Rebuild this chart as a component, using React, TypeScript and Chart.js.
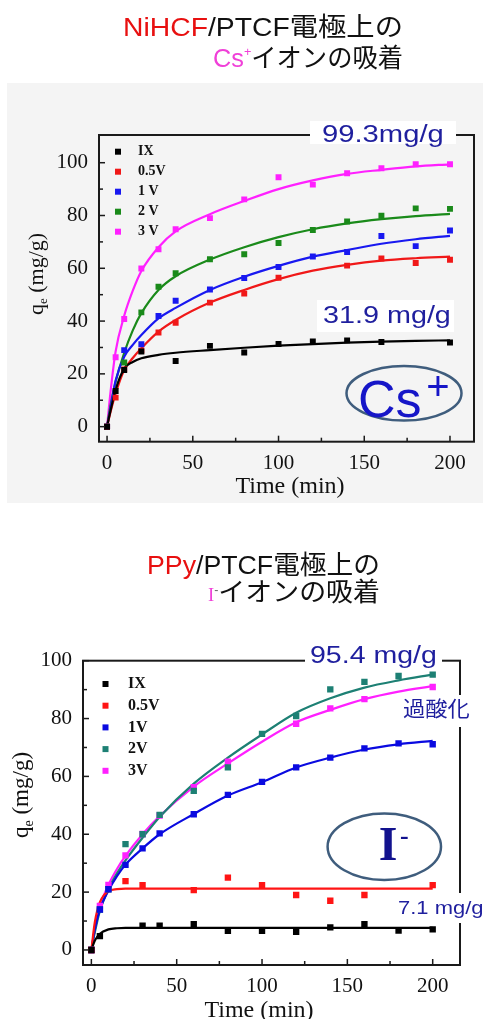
import React, { useEffect, useRef } from "react";
import { Chart, registerables } from "chart.js";
Chart.register(...registerables);

const SERIF = "'Liberation Serif', 'Times New Roman', serif";
const SANS = "'Liberation Sans', Arial, 'Noto Sans CJK JP', sans-serif";
const CJK = "'Noto Sans CJK JP', sans-serif";

// ---------- axes ----------
const xTickValues = [0, 50, 100, 150, 200];
const xMinorValues = [25, 75, 125, 175];
const yTickValues = [0, 20, 40, 60, 80, 100];
const yMinorValues = [10, 30, 50, 70, 90];

// ---------- Cs+ on NiHCF/PTCF ----------
const csLabels = ["IX", "0.5V", "1 V", "2 V", "3 V"];
const csColors = ["#000000", "#f01818", "#1818f0", "#1a8a1a", "#ff20ff"];
const csTimes = [0, 5, 10, 20, 30, 40, 60, 80, 100, 120, 140, 160, 180, 200];
const csIX = [0, 13.5, 21.5, 28.5, null, 24.9, 30.6, 28.1, 31.3, 32.3, 32.7, 32.1, null, 31.9];
const cs05V = [0, 11, 21.7, 28.8, 35.7, 39.4, 47, 50.4, 56.4, null, 61, 63.7, 62, 63.2];
const cs1V = [0, null, 29, 31.2, 41.9, 47.7, 52, 56.3, 60.5, 64.5, 66.2, 72.2, 68.4, 74.3];
const cs2V = [0, null, 24.3, 43.3, 53, 58.1, 63.4, 65.3, 69.6, 74.5, 77.7, 79.9, 82.7, 82.5];
const cs3V = [0, 26.3, 40.8, 59.9, 67.2, 74.8, 79, 86.1, 94.5, 91.7, 96, 97.9, 99.4, 99.4];

const fitTimes = [0, 2, 5, 10, 15, 20, 30, 40, 60, 80, 100, 120, 140, 160, 180, 200];
const csFitIX = [0, 6, 14, 22, 24.5, 25.9, 27.2, 28, 29, 29.9, 30.7, 31.3, 31.8, 32.2, 32.5, 32.7];
const csFit05V = [0, 5.5, 12.6, 21.5, 26, 29.7, 36, 40.4, 47, 51.8, 55.9, 59.1, 61.3, 62.9, 63.8, 64.4];
const csFit1V = [0, 7, 17.5, 26.5, 31, 34.7, 41, 45, 51.8, 56.8, 60.9, 64.4, 66.9, 69.3, 71, 72.3];
const csFit2V = [0, 8, 17, 28, 36.5, 43, 51.8, 57, 63.3, 68, 71.8, 74.8, 77, 78.6, 79.8, 80.6];
const csFit3V = [0, 13, 28.5, 42, 51.5, 59, 68, 74, 80.5, 85.5, 90, 93.3, 95.8, 97.3, 98.6, 99.4];

// ---------- I- on PPy/PTCF ----------
const iLabels = ["IX", "0.5V", "1V", "2V", "3V"];
const iColors = ["#000000", "#ff1414", "#0a0ae0", "#1d8074", "#ff20ff"];
const iTimes = [0, 5, 10, 20, 30, 40, 60, 80, 100, 120, 140, 160, 180, 200];
const iIX = [0, 4.8, null, null, 8.4, 8.4, 8.9, 6.6, 6.6, 6.3, 7.8, 8.9, 6.7, 7.1];
const i05V = [0, null, null, 23.8, 22.4, null, 20.7, 25, 22.4, 19, 17, 19, null, 22.4];
const i1V = [0, 14, 21, 29.4, 35.1, 40.3, 46.9, 53.6, 58.1, 63.1, 66.5, 69.7, 71.4, 71.1];
const i2V = [0, 14, 21, 36.6, 40, 46.7, 55, 63.1, 74.7, 80.9, 90.1, 92.7, 94.7, 95.2];
const i3V = [0, 15.2, 22.5, 32.7, 40.1, 46.5, 56.3, 65.1, null, 78.2, 83.5, 86.7, null, 90.9];

const iFitIX = [0, 3.2, 5.6, 7.1, 7.5, 7.6, 7.6, 7.6, 7.6, 7.6, 7.6, 7.6, 7.6, 7.6, 7.6, 7.6];
const iFit05V = [0, 9.5, 16.5, 20.3, 21, 21.2, 21.2, 21.2, 21.2, 21.2, 21.2, 21.2, 21.2, 21.2, 21.2, 21.2];
const iFit1V = [0, 7, 14, 20.5, 25.5, 29.5, 35.1, 40, 47, 53.4, 58, 63.1, 66.5, 69.3, 71.1, 72.3];
const iFit2V = [0, 6, 13.5, 21, 26.5, 31, 38.8, 46, 57.5, 66.5, 74.5, 82, 87, 90.7, 93.2, 95.2];
const iFit3V = [0, 7, 15, 22.5, 28, 32.5, 40, 46.3, 56.5, 64.5, 72, 78.7, 83, 86.7, 89.3, 91.2];

const pts = (ts: number[], vs: (number | null)[]) =>
  ts.map((t, i) => ({ x: t, y: vs[i] })).filter((p) => p.y !== null);

function drawText(ctx: any, s: string, x: number, y: number, font: string, color: string, sx = 1, align = "left") {
  ctx.save();
  ctx.font = font;
  ctx.fillStyle = color;
  ctx.textBaseline = "alphabetic";
  ctx.textAlign = align;
  ctx.translate(x, y);
  ctx.scale(sx, 1);
  ctx.fillText(s, 0, 0);
  ctx.restore();
}

function makeDeco(spec: any) {
  return {
    id: "deco",
    afterDraw(chart: any) {
      const { ctx, chartArea: ca, scales } = chart;
      const xs = scales.x;
      const ys = scales.y;
      ctx.save();
      ctx.strokeStyle = "#1a1a1a";
      ctx.lineWidth = 2;
      ctx.strokeRect(ca.left, ca.top, ca.right - ca.left, ca.bottom - ca.top);
      ctx.lineWidth = 1.5;
      const line = (x1: number, y1: number, x2: number, y2: number) => {
        ctx.beginPath();
        ctx.moveTo(x1, y1);
        ctx.lineTo(x2, y2);
        ctx.stroke();
      };
      xTickValues.forEach((v) => { const x = xs.getPixelForValue(v); line(x, ca.bottom, x, ca.bottom - 6); });
      xMinorValues.forEach((v) => { const x = xs.getPixelForValue(v); line(x, ca.bottom, x, ca.bottom - 4); });
      yTickValues.forEach((v) => { const y = ys.getPixelForValue(v); line(ca.left, y, ca.left + 6, y); });
      yMinorValues.forEach((v) => { const y = ys.getPixelForValue(v); line(ca.left, y, ca.left + 4, y); });
      ctx.restore();

      spec.boxes.forEach((b: any) => {
        ctx.save();
        ctx.fillStyle = "#ffffff";
        ctx.fillRect(b.x, b.y, b.w, b.h);
        ctx.restore();
      });
      spec.texts.forEach((t: any) => drawText(ctx, t.s, t.x, t.y, t.font, t.color, t.sx || 1, t.align || "left"));

      const e = spec.ellipse;
      ctx.save();
      ctx.strokeStyle = "#3f5d7d";
      ctx.lineWidth = 2.5;
      ctx.beginPath();
      ctx.ellipse(e.cx, e.cy, e.rx, e.ry, 0, 0, Math.PI * 2);
      ctx.stroke();
      ctx.restore();
      spec.ionTexts.forEach((t: any) => drawText(ctx, t.s, t.x, t.y, t.font, t.color, 1, t.align || "left"));

      const lg = spec.legend;
      spec.labels.forEach((lab: string, i: number) => {
        const y = lg.y0 + lg.dy * i;
        const col = chart.data.datasets[i].backgroundColor;
        ctx.save();
        ctx.fillStyle = col;
        ctx.fillRect(lg.mx - 3, y - 3, 6, 6);
        ctx.fillStyle = "#111";
        ctx.font = `bold ${lg.size}px ${SERIF}`;
        ctx.textBaseline = "middle";
        ctx.fillText(lab, lg.lx, y);
        ctx.restore();
      });

      drawText(ctx, "Time (min)", spec.xTitle.x, spec.xTitle.y, `24px ${SERIF}`, "#111", 1, "center");
      const yt = spec.yTitle;
      ctx.save();
      ctx.translate(yt.x, yt.y);
      ctx.rotate(-Math.PI / 2);
      ctx.fillStyle = "#111";
      ctx.textBaseline = "alphabetic";
      ctx.textAlign = "left";
      ctx.font = `${yt.size}px ${SERIF}`;
      ctx.fillText("q", 0, 0);
      let w = ctx.measureText("q").width;
      ctx.font = `${Math.round(yt.size * 0.6)}px ${SERIF}`;
      ctx.fillText("e", w, yt.size * 0.2);
      w += ctx.measureText("e").width;
      ctx.font = `${yt.size}px ${SERIF}`;
      ctx.fillText(" (mg/g)", w, 0);
      ctx.restore();
    },
  };
}

function buildChart(canvas: HTMLCanvasElement, spec: any) {
  const datasets: any[] = [];
  spec.labels.forEach((lab: string, i: number) => {
    datasets.push({
      label: lab,
      data: pts(spec.times, spec.points[i]),
      showLine: false,
      pointStyle: "rect",
      pointRadius: spec.pr,
      pointHoverRadius: spec.pr,
      backgroundColor: spec.colors[i],
      borderColor: spec.colors[i],
      borderWidth: 0,
    });
  });
  spec.labels.forEach((lab: string, i: number) => {
    datasets.push({
      label: lab + " fit",
      data: pts(fitTimes, spec.fits[i]),
      showLine: true,
      pointRadius: 0,
      borderColor: spec.colors[i],
      backgroundColor: spec.colors[i],
      borderWidth: 2.2,
      cubicInterpolationMode: "monotone",
      fill: false,
    });
  });
  const tickFont = { family: SERIF, size: 21 };
  return new Chart(canvas, {
    type: "scatter",
    data: { datasets },
    options: {
      responsive: false,
      animation: false,
      events: [],
      layout: { padding: { left: 0, top: spec.area.top, right: spec.area.right, bottom: 0 } },
      plugins: { legend: { display: false }, tooltip: { enabled: false } },
      scales: {
        x: {
          type: "linear",
          min: spec.xMin,
          max: spec.xMax,
          afterBuildTicks: (s: any) => { s.ticks = xTickValues.map((v) => ({ value: v })); },
          afterFit: (s: any) => { s.height = spec.area.xAxisH; },
          grid: { display: false, drawTicks: false },
          border: { display: false },
          ticks: { font: tickFont, color: "#111", padding: 9, maxRotation: 0, autoSkip: false },
        },
        y: {
          type: "linear",
          min: spec.yMin,
          max: spec.yMax,
          afterBuildTicks: (s: any) => { s.ticks = yTickValues.map((v) => ({ value: v })); },
          afterFit: (s: any) => { s.width = spec.area.left; },
          grid: { display: false, drawTicks: false },
          border: { display: false },
          ticks: { font: tickFont, color: "#111", padding: 11, autoSkip: false },
        },
      },
    } as any,
    plugins: [makeDeco(spec)],
  });
}

const annFont = (n: number) => `${n}px ${SANS}`;
const annColor = "#1f1f9e";

const csSpec = {
  labels: csLabels,
  colors: csColors,
  times: csTimes,
  points: [csIX, cs05V, cs1V, cs2V, cs3V],
  fits: [csFitIX, csFit05V, csFit1V, csFit2V, csFit3V],
  pr: 4.2,
  xMin: -4.7,
  xMax: 214,
  yMin: -5.7,
  yMax: 110.5,
  area: { top: 52, right: 9, left: 99, xAxisH: 61.3 },
  boxes: [
    { x: 310, y: 38, w: 146, h: 23 },
    { x: 317, y: 217, w: 137, h: 32 },
  ],
  texts: [
    { s: "99.3mg/g", x: 322, y: 59, font: annFont(23), color: annColor, sx: 1.27 },
    { s: "31.9 mg/g", x: 323, y: 240.3, font: annFont(23), color: annColor, sx: 1.25 },
  ],
  ellipse: { cx: 404, cy: 310.3, rx: 57.5, ry: 27.3 },
  ionTexts: [
    { s: "Cs", x: 358, y: 333.7, font: `52px ${SANS}`, color: "#1616c8" },
    { s: "+", x: 438, y: 317, font: `40px ${SANS}`, color: "#1616c8", align: "center" },
  ],
  legend: { mx: 118, lx: 138, y0: 68.7, dy: 20, size: 14 },
  xTitle: { x: 290, y: 410 },
  yTitle: { x: 42.5, y: 232, size: 22 },
};

const iSpec = {
  labels: iLabels,
  colors: iColors,
  times: iTimes,
  points: [iIX, i05V, i1V, i2V, i3V],
  fits: [iFitIX, iFit05V, iFit1V, iFit2V, iFit3V],
  pr: 4.5,
  xMin: -4.9,
  xMax: 216,
  yMin: -5.2,
  yMax: 100,
  area: { top: 50.7, right: 23, left: 83, xAxisH: 54 },
  boxes: [
    { x: 305, y: 33, w: 137, h: 25 },
    { x: 398, y: 85, w: 78, h: 32 },
    { x: 392, y: 283, w: 91, h: 30 },
  ],
  texts: [
    { s: "95.4 mg/g", x: 310, y: 53.3, font: annFont(23), color: annColor, sx: 1.24 },
    { s: "過酸化", x: 403, y: 106, font: `21px ${CJK}`, color: annColor, sx: 1.06 },
    { s: "7.1 mg/g", x: 398, y: 304, font: annFont(18), color: annColor, sx: 1.22 },
  ],
  ellipse: { cx: 384.3, cy: 236.7, rx: 56.7, ry: 33.3 },
  ionTexts: [
    { s: "I", x: 388, y: 250, font: `bold 48px ${SERIF}`, color: "#12128e", align: "center" },
    { s: "-", x: 400, y: 234, font: `bold 26px ${SERIF}`, color: "#12128e" },
  ],
  legend: { mx: 105.5, lx: 128, y0: 74, dy: 21.7, size: 16 },
  xTitle: { x: 259, y: 407 },
  yTitle: { x: 28, y: 228, size: 23 },
};

// ---------- titles (drawn on small canvases, fitted to the reference extents) ----------
type Seg = { t: string; color: string; size: number; family: string; rise?: number };
const titleTop1: Seg[] = [
  { t: "NiHCF", color: "#e81010", size: 26, family: SANS },
  { t: "/PTCF", color: "#111", size: 26, family: SANS },
  { t: "電極上の", color: "#111", size: 26, family: CJK },
];
const titleTop2: Seg[] = [
  { t: "Cs", color: "#f040d8", size: 26, family: SANS },
  { t: "+", color: "#f040d8", size: 13, family: SANS, rise: 11 },
  { t: "イオンの吸着", color: "#111", size: 26, family: CJK },
];
const titleBot1: Seg[] = [
  { t: "PPy", color: "#e81010", size: 26, family: SANS },
  { t: "/PTCF", color: "#111", size: 26, family: SANS },
  { t: "電極上の", color: "#111", size: 26, family: CJK },
];
const titleBot2: Seg[] = [
  { t: "I", color: "#f040d8", size: 18, family: SERIF },
  { t: "-", color: "#666", size: 12, family: SANS, rise: 7 },
  { t: "イオンの吸着", color: "#111", size: 26, family: CJK },
];

function drawTitle(canvas: HTMLCanvasElement, lines: { segs: Seg[]; left: number; right: number; base: number }[]) {
  const ctx = canvas.getContext("2d")!;
  ctx.clearRect(0, 0, canvas.width, canvas.height);
  lines.forEach((ln) => {
    let total = 0;
    ln.segs.forEach((s) => {
      ctx.font = `${s.size}px ${s.family}`;
      total += ctx.measureText(s.t).width;
    });
    const sx = (ln.right - ln.left) / total;
    ctx.save();
    ctx.translate(ln.left, ln.base);
    ctx.scale(sx, 1);
    let x = 0;
    ln.segs.forEach((s) => {
      ctx.font = `${s.size}px ${s.family}`;
      ctx.fillStyle = s.color;
      ctx.textBaseline = "alphabetic";
      ctx.fillText(s.t, x, -(s.rise || 0));
      x += ctx.measureText(s.t).width;
    });
    ctx.restore();
  });
}

export default function App() {
  const r1 = useRef<HTMLCanvasElement>(null);
  const r2 = useRef<HTMLCanvasElement>(null);
  const t1 = useRef<HTMLCanvasElement>(null);
  const t2 = useRef<HTMLCanvasElement>(null);
  useEffect(() => {
    drawTitle(t1.current!, [
      { segs: titleTop1, left: 123, right: 403, base: 36 },
      { segs: titleTop2, left: 213, right: 403, base: 67 },
    ]);
    drawTitle(t2.current!, [
      { segs: titleBot1, left: 147, right: 380, base: 574 - 540 },
      { segs: titleBot2, left: 208, right: 380, base: 601 - 540 },
    ]);
    const c1 = buildChart(r1.current!, csSpec);
    const c2 = buildChart(r2.current!, iSpec);
    return () => {
      c1.destroy();
      c2.destroy();
    };
  }, []);
  return (
    <div style={{ position: "absolute", left: 0, top: 0, width: 483, height: 1019, background: "#fff", overflow: "hidden" }}>
      <canvas ref={t1} width={483} height={80} style={{ position: "absolute", left: 0, top: 0 }} />
      <div style={{ position: "absolute", left: 7, top: 83, width: 476, height: 420, background: "#f4f4f4" }} />
      <canvas ref={r1} width={483} height={420} style={{ position: "absolute", left: 0, top: 83 }} />
      <canvas ref={t2} width={483} height={70} style={{ position: "absolute", left: 0, top: 540 }} />
      <canvas ref={r2} width={483} height={409} style={{ position: "absolute", left: 0, top: 610 }} />
    </div>
  );
}
